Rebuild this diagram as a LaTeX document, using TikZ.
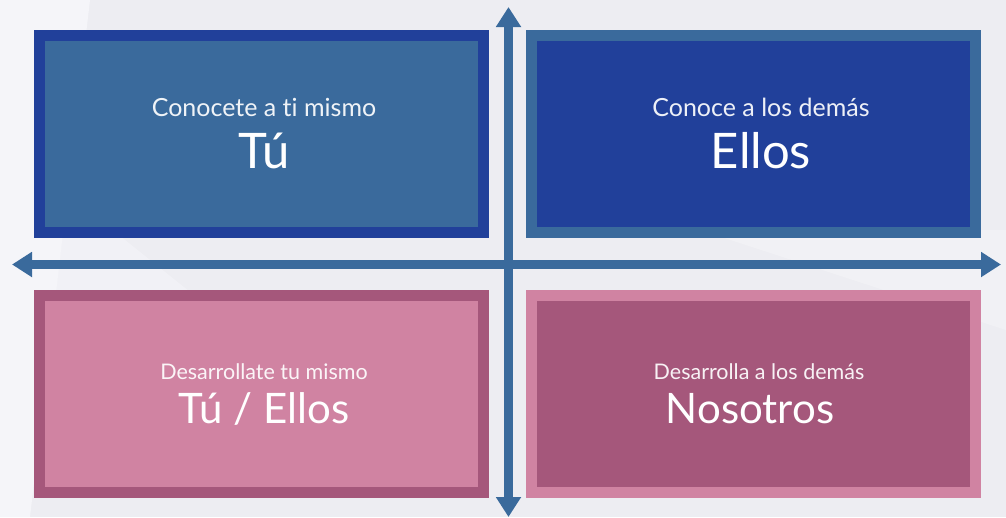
\documentclass[tikz,border=0pt]{standalone}
\usepackage{fontspec}
\setmainfont{Lato}[Ligatures=CommonOff]
\usetikzlibrary{arrows.meta}
\definecolor{bgc}{HTML}{EDEDF2}
\definecolor{bgl}{HTML}{F5F5F9}
\definecolor{blueA}{HTML}{3A6A9C}
\definecolor{blueB}{HTML}{21409A}
\definecolor{pinkA}{HTML}{D083A2}
\definecolor{pinkB}{HTML}{A5577B}
\tikzset{
  quad/.style={draw, line width=11pt, inner sep=0pt, outer sep=0pt,
    minimum width=444pt, minimum height=197pt},
  small/.style={text=white, text opacity=0.92, anchor=base, inner sep=0pt, font=\fontsize{25}{25}\selectfont},
  smallb/.style={text=white, text opacity=0.92, anchor=base, inner sep=0pt, font=\fontsize{21.5}{21.5}\selectfont},
  big/.style={text=white, anchor=base, inner sep=0pt, font=\fontsize{49}{49}\selectfont},
  bigb/.style={text=white, anchor=base, inner sep=0pt, font=\fontsize{42}{42}\selectfont},
  axis/.style={blueA, line width=8.5pt, {Triangle[length=20pt,width=24pt]}-{Triangle[length=20pt,width=24pt]}}
}
\begin{document}
\begin{tikzpicture}[x=1pt,y=-1pt]
\fill[bgc] (0,0) rectangle (1006,517);
\useasboundingbox (0,0) rectangle (1006,517);
% faint background facets
\fill[bgl] (0,0) -- (90,0) -- (30,517) -- (0,517) -- cycle;
\fill[bgl, opacity=0.6] (0,140) -- (200,300) -- (0,420) -- cycle;
\fill[white, opacity=0.25] (700,230) -- (1006,330) -- (1006,230) -- cycle;

% boxes
\node[quad, draw=blueB, fill=blueA] (tl) at (261.5,134) {};
\node[quad, draw=blueA, fill=blueB] (tr) at (753.5,134) {};
\node[quad, draw=pinkB, fill=pinkA] (bl) at (261.5,393.5) {};
\node[quad, draw=pinkA, fill=pinkB] (br) at (753.5,393.5) {};

% texts
\node[small] (tls) at (264,116) {Conocete a ti mismo};
\node[big] (tlb) at (264,168) {Tú};
\node[small] (trs) at (761,116) {Conoce a los demás};
\node[big] (trb) at (761,168) {Ellos};
\node[smallb] (bls) at (264,379) {Desarrollate tu mismo};
\node[bigb] (blb) at (264,423) {Tú / Ellos};
\node[smallb] (brs) at (759,379) {Desarrolla a los demás};
\node[bigb] (brb) at (750,423) {Nosotros};

% axes
\coordinate (L) at (12,264.5);
\coordinate (R) at (1001,264.5);
\coordinate (T) at (508.5,7);
\coordinate (B) at (508.5,517);
\draw[axis] (L) -- (R);
\draw[axis] (T) -- (B);
\end{tikzpicture}
\end{document}
